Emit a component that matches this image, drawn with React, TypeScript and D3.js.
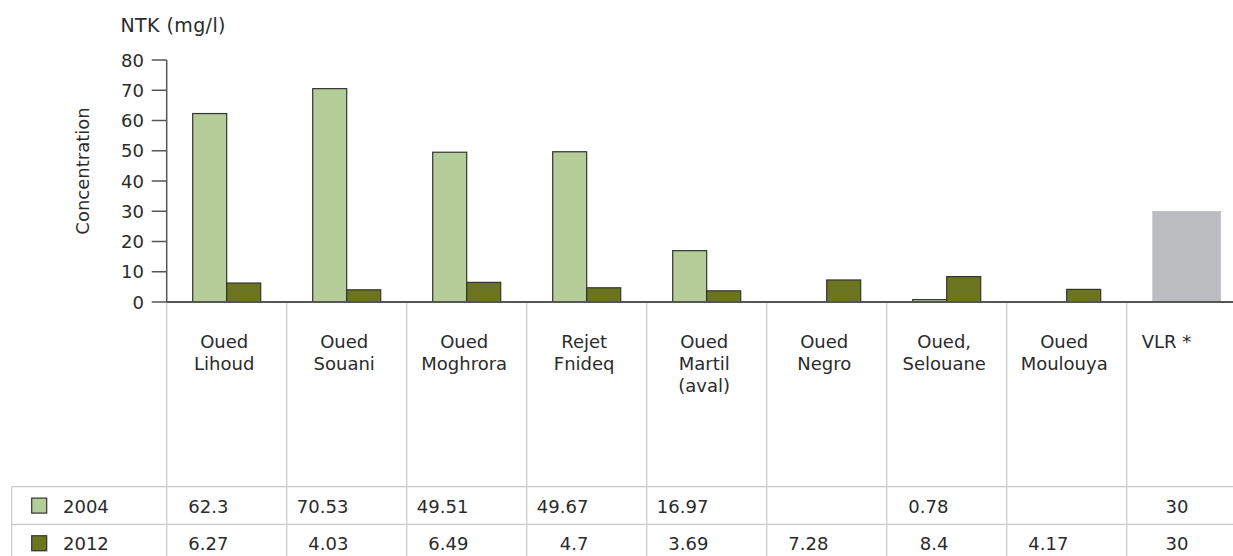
import React from "react";
import * as d3 from "d3";

// Sampling sites (category labels split into lines)
const categories: string[][] = [
  ["Oued", "Lihoud"],
  ["Oued", "Souani"],
  ["Oued", "Moghrora"],
  ["Rejet", "Fnideq"],
  ["Oued", "Martil", "(aval)"],
  ["Oued", "Negro"],
  ["Oued,", "Selouane"],
  ["Oued", "Moulouya"],
  ["VLR *"],
];

const seriesNames = ["2004", "2012"];

// NTK concentrations (mg/l); null = no measurement
const values2004: (number | null)[] = [62.3, 70.53, 49.51, 49.67, 16.97, null, 0.78, null, 30];
const values2012: (number | null)[] = [6.27, 4.03, 6.49, 4.7, 3.69, 7.28, 8.4, 4.17, 30];

const yTicks = [0, 10, 20, 30, 40, 50, 60, 70, 80];

const W = 1233;
const H = 556;
const FONT = "'DejaVu Sans', Verdana, sans-serif";
const TEXT = "#2b2b2b";
const GRID = "#c9c9c9";
const colors = ["#b4cd98", "#6b751f"];
const limitColor = "#bcbdc1";

export default function App() {
  const x0 = 166.7;
  const colW = 120;
  const keys = categories.map((_, i) => String(i));
  const x = d3.scaleBand<string>().domain(keys).range([x0, x0 + colW * keys.length]).padding(0);
  const xs = d3
    .scaleBand<string>()
    .domain(seriesNames)
    .range([0, x.bandwidth()])
    .paddingInner(0)
    .paddingOuter(0.7647);
  const y = d3.scaleLinear().domain([0, 80]).range([302, 60]);

  const series = [values2004, values2012];
  const lastIdx = categories.length - 1;

  const rowTop = [486.7, 524.3];
  const rowBottom = 562;
  const tableLeft = 11.7;

  return (
    <div style={{ position: "fixed", left: 0, top: 0 }}>
      <svg width={W} height={H} style={{ display: "block", background: "#fff" }}>
        {/* title */}
        <text x={120.5} y={32.3} fontFamily={FONT} fontSize={19} letterSpacing={0.4} fill={TEXT}>
          NTK (mg/l)
        </text>
        <text
          transform={`translate(89,171) rotate(-90)`}
          textAnchor="middle"
          fontFamily={FONT}
          fontSize={18}
          fill={TEXT}
        >
          Concentration
        </text>

        {/* vertical gridlines below the plot */}
        {keys.map((k) => (
          <line key={"g" + k} x1={x(k)!} x2={x(k)!} y1={302} y2={H} stroke={GRID} strokeWidth={1.2} />
        ))}
        <line x1={tableLeft} x2={tableLeft} y1={rowTop[0]} y2={H} stroke={GRID} strokeWidth={1.2} />
        {rowTop.map((ry, i) => (
          <line key={"r" + i} x1={tableLeft} x2={W} y1={ry} y2={ry} stroke={GRID} strokeWidth={1.2} />
        ))}

        {/* bars */}
        {series.map((vals, si) =>
          vals.map((v, ci) => {
            if (v == null) return null;
            const bx = x(String(ci))! + xs(seriesNames[si])!;
            const isLimit = ci === lastIdx;
            return (
              <rect
                key={`b${si}-${ci}`}
                x={bx}
                y={y(v)}
                width={xs.bandwidth()}
                height={y(0) - y(v)}
                fill={isLimit ? limitColor : colors[si]}
                stroke={isLimit ? limitColor : "#333"}
                strokeWidth={isLimit ? 0.6 : 1.2}
              />
            );
          })
        )}

        {/* y axis */}
        <line x1={x0} x2={x0} y1={y(80)} y2={y(0)} stroke="#555" strokeWidth={1.5} />
        {yTicks.map((t) => (
          <g key={"t" + t}>
            <line x1={x0 - 15} x2={x0} y1={y(t)} y2={y(t)} stroke="#555" strokeWidth={1.5} />
            <text
              x={144}
              y={y(t) + 6.5}
              textAnchor="end"
              fontFamily={FONT}
              fontSize={18}
              fill={TEXT}
            >
              {t}
            </text>
          </g>
        ))}
        <line x1={x0} x2={W} y1={y(0)} y2={y(0)} stroke="#555" strokeWidth={2} />

        {/* category labels */}
        {categories.map((lines, ci) => {
          const left = x(String(ci))!;
          const isLimit = ci === lastIdx;
          const cx = isLimit ? left + 15 : left + x.bandwidth() / 2 - 2.5;
          return (
            <text
              key={"c" + ci}
              fontFamily={FONT}
              fontSize={18}
              fill={TEXT}
              textAnchor={isLimit ? "start" : "middle"}
            >
              {lines.map((l, li) => (
                <tspan key={li} x={cx} y={348.3 + li * 21.7}>
                  {l}
                </tspan>
              ))}
            </text>
          );
        })}

        {/* data table */}
        {series.map((vals, si) => {
          const base = (rowTop[si] + (si + 1 < rowTop.length ? rowTop[si + 1] : rowBottom)) / 2 + 7;
          return (
            <g key={"row" + si}>
              <rect
                x={31.7}
                y={base - 14.4}
                width={15}
                height={15}
                fill={colors[si]}
                stroke="#333"
                strokeWidth={1.2}
              />
              <text x={63} y={base} fontFamily={FONT} fontSize={18} fill={TEXT}>
                {seriesNames[si]}
              </text>
              {vals.map((v, ci) =>
                v == null ? null : (
                  <text
                    key={"v" + ci}
                    x={x(String(ci))! + x.bandwidth() - 58.3}
                    y={base}
                    textAnchor="end"
                    fontFamily={FONT}
                    fontSize={18}
                    fill={TEXT}
                  >
                    {String(v)}
                  </text>
                )
              )}
            </g>
          );
        })}
      </svg>
    </div>
  );
}
